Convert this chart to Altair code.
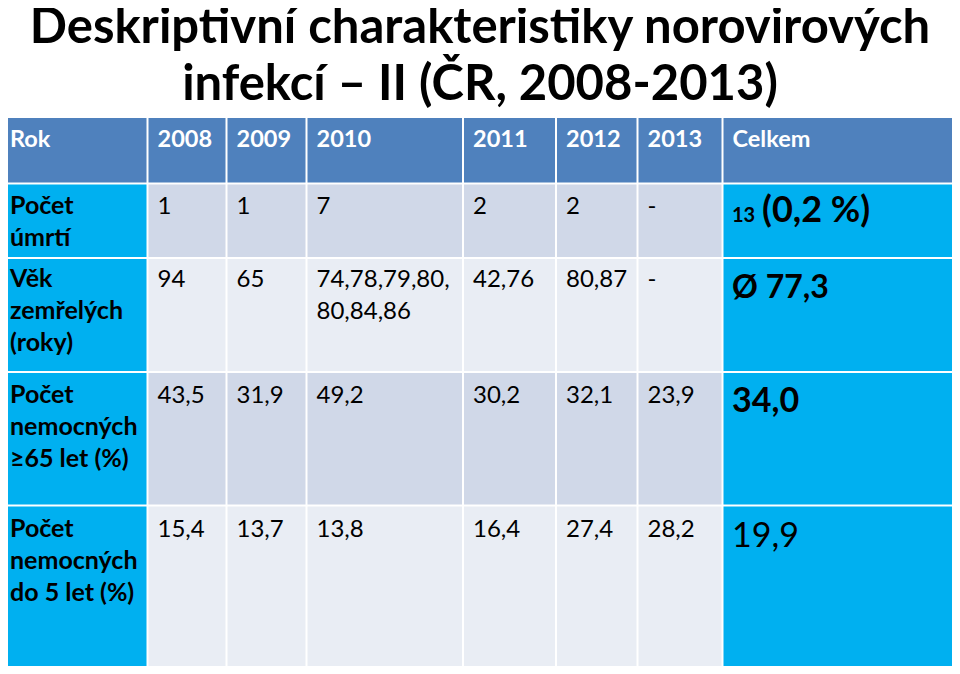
import altair as alt
import pandas as pd

# ---------------- data ----------------
title_lines = ["Deskriptivní charakteristiky norovirových", "infekcí – II (ČR, 2008-2013)"]
header = ["Rok", "2008", "2009", "2010", "2011", "2012", "2013", "Celkem"]
row_labels = ["Počet\númrtí", "Věk\nzemřelých\n(roky)", "Počet\nnemocných\n≥65 let (%)",
              "Počet\nnemocných\ndo 5 let (%)"]
deaths = ["1", "1", "7", "2", "2", "-"]
ages = ["94", "65", "74,78,79,80,\n80,84,86", "42,76", "80,87", "-"]
pct65 = ["43,5", "31,9", "49,2", "30,2", "32,1", "23,9"]
pct5 = ["15,4", "13,7", "13,8", "16,4", "27,4", "28,2"]
total_deaths = "13"
total_deaths_pct = "(0,2 %)"
total_age = "Ø 77,3"
total_pct65 = "34,0"
total_pct5 = "19,9"

# ---------------- layout ----------------
FONT = "Lato"
col_edges = [0, 147.5, 226.5, 306.5, 463, 556, 637.5, 722.5, 960]
row_edges = [118, 183.5, 258, 372, 505.5, 668]
row_baselines = [147, 214, 287, 403, 537]
C_HEAD = "#4F81BD"
C_CYAN = "#00B0F0"
C_DARK = "#D0D8E8"
C_LIGHT = "#E9EDF4"

xs = alt.Scale(domain=[8, 952], nice=False, zero=False)
ys = alt.Scale(domain=[8, 666], nice=False, zero=False, reverse=True)

cells = []
for r in range(5):
    for c in range(8):
        x = col_edges[c] + (0 if c == 0 else 1)
        x2 = col_edges[c + 1] - (0 if c == 7 else 1)
        y = row_edges[r] + (0 if r == 0 else 1)
        y2 = row_edges[r + 1] - (0 if r == 4 else 1)
        if r == 0:
            fill = C_HEAD
        elif c == 0 or c == 7:
            fill = C_CYAN
        elif r in (1, 3):
            fill = C_DARK
        else:
            fill = C_LIGHT
        cells.append(dict(x=x, x2=x2, y=y, y2=y2, fill=fill))
cells_df = pd.DataFrame(cells)

rects = alt.Chart(cells_df).mark_rect(strokeWidth=0).encode(
    x=alt.X("x:Q", scale=xs, axis=None),
    x2="x2:Q",
    y=alt.Y("y:Q", scale=ys, axis=None),
    y2="y2:Q",
    color=alt.Color("fill:N", scale=None),
)


def text_layer(rows, weight, color, align="left", line_height=32):
    df = pd.DataFrame(rows)
    return alt.Chart(df).mark_text(
        font=FONT, fontWeight=weight, align=align, baseline="alphabetic",
        lineBreak="\n", lineHeight=line_height, color=color,
    ).encode(
        x=alt.X("x:Q", scale=xs, axis=None),
        y=alt.Y("y:Q", scale=ys, axis=None),
        text="t:N",
        size=alt.Size("s:Q", scale=None, legend=None),
    )


title_rows = [dict(x=480, y=43, t=title_lines[0], s=49), dict(x=480, y=100, t=title_lines[1], s=49)]
title = text_layer(title_rows, "bold", "black", align="center")

head_rows = [dict(x=col_edges[c] + 10, y=row_baselines[0], t=header[c], s=23.5) for c in range(8)]
heads = text_layer(head_rows, "bold", "white")

label_rows = [dict(x=10, y=row_baselines[i + 1], t=row_labels[i], s=25) for i in range(4)]
labels = text_layer(label_rows, "bold", "black")

body_rows = []
for i, series in enumerate([deaths, ages, pct65, pct5]):
    for c, v in enumerate(series):
        body_rows.append(dict(x=col_edges[c + 1] + 10, y=row_baselines[i + 1], t=v, s=24))
body = text_layer(body_rows, "normal", "black")

tot_bold_rows = [
    dict(x=732, y=222, t=total_deaths, s=20),
    dict(x=762, y=222, t=total_deaths_pct, s=36),
    dict(x=732, y=298, t=total_age, s=32),
    dict(x=732, y=412, t=total_pct65, s=34),
]
tot_bold = text_layer(tot_bold_rows, "bold", "black")
tot_reg = text_layer([dict(x=732, y=547, t=total_pct5, s=34)], "normal", "black")

chart = alt.layer(rects, title, heads, labels, body, tot_bold, tot_reg).properties(
    width=944, height=658, padding=0, background="white",
    autosize=alt.AutoSizeParams(type="none"),
).configure_view(stroke=None)

chart.save("out.html", embed_options={"renderer": "svg", "actions": False})
